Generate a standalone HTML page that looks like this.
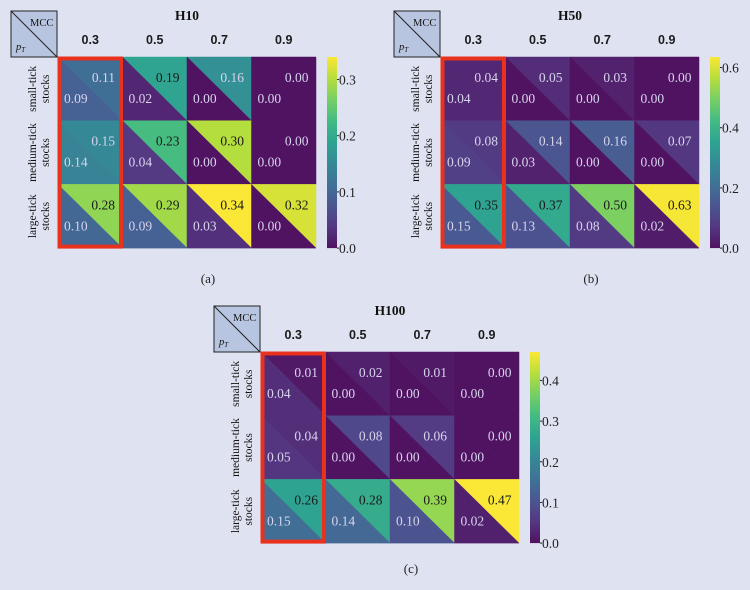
<!DOCTYPE html>
<html><head><meta charset="utf-8"><style>
body{margin:0;background:#dfe3f1;}
svg{display:block;}
text{font-family:"Liberation Serif",serif;}
.col{font-family:"Liberation Sans",sans-serif;font-size:12.5px;font-weight:bold;fill:#1a1a1a;}
</style></head><body>
<svg id="fig" width="750" height="590" viewBox="0 0 750 590" xmlns="http://www.w3.org/2000/svg"></svg>
<script>
const columns = ["0.3","0.5","0.7","0.9"];
const rows = [["small-tick","stocks"],["medium-tick","stocks"],["large-tick","stocks"]];
const titles = ["H10","H50","H100"];
const captions = ["(a)","(b)","(c)"];
const upperA = [[0.11,0.19,0.16,0.00],[0.15,0.23,0.30,0.00],[0.28,0.29,0.34,0.32]];
const lowerA = [[0.09,0.02,0.00,0.00],[0.14,0.04,0.00,0.00],[0.10,0.09,0.03,0.00]];
const upperB = [[0.04,0.05,0.03,0.00],[0.08,0.14,0.16,0.07],[0.35,0.37,0.50,0.63]];
const lowerB = [[0.04,0.00,0.00,0.00],[0.09,0.03,0.00,0.00],[0.15,0.13,0.08,0.02]];
const upperC = [[0.01,0.02,0.01,0.00],[0.04,0.08,0.06,0.00],[0.26,0.28,0.39,0.47]];
const lowerC = [[0.04,0.00,0.00,0.00],[0.05,0.00,0.00,0.00],[0.15,0.14,0.10,0.02]];
const maxes = [0.34,0.635,0.47];
const ticksA = [0.0,0.1,0.2,0.3];
const ticksB = [0.0,0.2,0.4,0.6];
const ticksC = [0.0,0.1,0.2,0.3,0.4];

const NS="http://www.w3.org/2000/svg";
const svg=document.getElementById('fig');
function el(tag,attrs,parent,txt){const e=document.createElementNS(NS,tag);for(const k in attrs)e.setAttribute(k,attrs[k]);if(txt!==undefined)e.textContent=txt;(parent||svg).appendChild(e);return e;}
const VIR=[[68,1,84],[72,40,120],[62,74,137],[49,104,142],[38,130,142],[31,158,137],[53,183,121],[109,205,89],[180,222,44],[253,231,37]];
const BG=[223,227,241];
function viridis(t){t=Math.max(0,Math.min(1,t));const p=t*(VIR.length-1);const i=Math.min(Math.floor(p),VIR.length-2);const f=p-i;const c=VIR[i].map((v,k)=>Math.round((v+(VIR[i+1][k]-v)*f)*0.92+BG[k]*0.08));return `rgb(${c[0]},${c[1]},${c[2]})`;}

const panels=[{ox:0,oy:0,up:upperA,lo:lowerA,ticks:ticksA},{ox:383,oy:0,up:upperB,lo:lowerB,ticks:ticksB},{ox:203,oy:295,up:upperC,lo:lowerC,ticks:ticksC}];
panels.forEach((P,pi)=>{
  const g=el('g',{transform:`translate(${P.ox},${P.oy})`});
  
  
  const x0=58,y0=57,cw=64.5,ch=63.7,max=maxes[pi];
  const sx=c=>x0+c*cw, sy=r=>y0+r*ch;
  const cb=el('g',{},g);
  
  
  el('rect',{x:11,y:11,width:46,height:46,fill:'#b8c5e1',stroke:'#222','stroke-width':1},cb);
  el('line',{x1:11,y1:11,x2:57,y2:57,stroke:'#222','stroke-width':1},cb);
  el('text',{x:30,y:26,'font-size':10.5,fill:'#111'},cb,'MCC');
  const pt=el('text',{x:16,y:50,'font-size':10.5,'font-style':'italic',fill:'#111'},cb,'p');
  el('tspan',{'font-size':7,dy:2},pt,'T');
  const t=el('text',{x:187,y:20,'font-size':13.5,'font-weight':'bold','text-anchor':'middle',fill:'#111'},g,titles[pi]);
  
  
  columns.forEach((c,ci)=>{const e=el('text',{x:sx(ci)+cw/2,y:44,'text-anchor':'middle',class:'col'},g,c);
    
    });
  rows.forEach((r,ri)=>{const cy=sy(ri)+ch/2;const e=el('text',{transform:`translate(38,${cy}) rotate(-90)`,'text-anchor':'middle','font-size':11.5,fill:'#111'},g);
    el('tspan',{x:0,dy:-2},e,r[0]);el('tspan',{x:0,dy:13},e,r[1]);
    
    });
  for(let r=0;r<3;r++)for(let c=0;c<4;c++){
    const x=sx(c),y=sy(r),u=P.up[r][c],l=P.lo[r][c];
    const tu=el('polygon',{points:`${x},${y} ${x+cw},${y} ${x+cw},${y+ch}`,fill:viridis(u/max),stroke:viridis(u/max),'stroke-width':0.5},g);
    
    
    const tl=el('polygon',{points:`${x},${y} ${x},${y+ch} ${x+cw},${y+ch}`,fill:viridis(l/max),stroke:viridis(l/max),'stroke-width':0.5},g);
    
    
    const a=el('text',{x:x+57,y:y+25,'text-anchor':'end','font-size':13.5,fill:u/max>0.55?'#1a1a1a':'#d8d4ee'},g,u.toFixed(2));
    
    
    const b=el('text',{x:x+6,y:y+46,'font-size':13.5,fill:l/max>0.55?'#1a1a1a':'#d8d4ee'},g,l.toFixed(2));
    
    
  }
  const hb=el('rect',{x:x0+1.5,y:y0+1.5,width:cw-3,height:ch*3-3,fill:'none',stroke:'#e8321e','stroke-width':4},g);
  
  
  const gid='cg'+pi;const defs=el('defs',{},g);const lg=el('linearGradient',{id:gid,x1:0,y1:1,x2:0,y2:0},defs);
  for(let i=0;i<=9;i++)el('stop',{offset:i/9,'stop-color':viridis(i/9)},lg);
  const cbx=327,cbTop=y0,cbBot=y0+ch*3;
  const bar=el('rect',{x:cbx,y:cbTop,width:10,height:cbBot-cbTop,fill:`url(#${gid})`},g);
  
  
  const cy=v=>cbBot-(v/max)*(cbBot-cbTop);
  P.ticks.forEach(v=>{el('line',{x1:cbx+10,x2:cbx+12,y1:cy(v),y2:cy(v),stroke:'#222'},g);
    const e=el('text',{x:cbx+12,y:cy(v)+5,'font-size':13.5,fill:'#222'},g,v.toFixed(1));
    
    });
  const cap=el('text',{x:x0+150,y:pi==2?278:283,'text-anchor':'middle','font-size':13,fill:'#222'},g,captions[pi]);
  
  
});
</script>
</body></html>
